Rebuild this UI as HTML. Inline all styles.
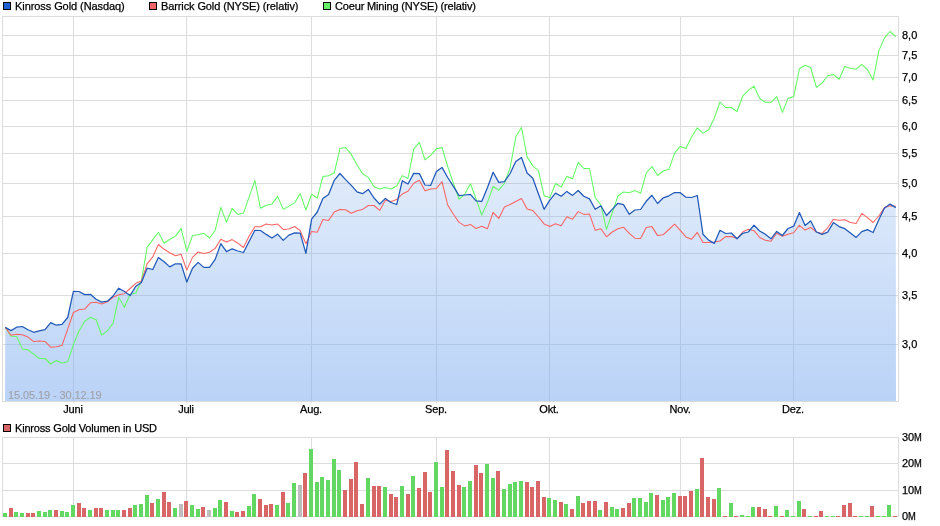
<!DOCTYPE html>
<html><head><meta charset="utf-8"><title>Chart</title>
<style>
html,body{margin:0;padding:0;background:#fff;}
body{width:940px;height:526px;position:relative;overflow:hidden;font-family:"Liberation Sans",sans-serif;}
.t{position:absolute;will-change:transform;-webkit-text-stroke:0.25px currentColor;font-size:11px;line-height:13px;color:#000;white-space:nowrap;}
</style></head><body>
<svg width="940" height="526" viewBox="0 0 940 526" style="position:absolute;left:0;top:0">
<defs>
<linearGradient id="bf" gradientUnits="userSpaceOnUse" x1="0" y1="16" x2="0" y2="401"><stop offset="0" stop-color="#7eadef" stop-opacity="0.03"/><stop offset="1" stop-color="#7eadef" stop-opacity="0.54"/></linearGradient></defs>
<g stroke="#dcdcdc" stroke-width="1" shape-rendering="crispEdges" fill="none">
<rect x="2.5" y="16.5" width="896" height="385"/>
<line x1="3" x2="898" y1="35.5" y2="35.5"/>
<line x1="3" x2="898" y1="55.5" y2="55.5"/>
<line x1="3" x2="898" y1="77.5" y2="77.5"/>
<line x1="3" x2="898" y1="100.5" y2="100.5"/>
<line x1="3" x2="898" y1="126.5" y2="126.5"/>
<line x1="3" x2="898" y1="153.5" y2="153.5"/>
<line x1="3" x2="898" y1="183.5" y2="183.5"/>
<line x1="3" x2="898" y1="216.5" y2="216.5"/>
<line x1="3" x2="898" y1="253.5" y2="253.5"/>
<line x1="3" x2="898" y1="295.5" y2="295.5"/>
<line x1="3" x2="898" y1="344.5" y2="344.5"/>
<line x1="73.5" x2="73.5" y1="17" y2="403"/>
<line x1="73.5" x2="73.5" y1="438" y2="517"/>
<line x1="186.5" x2="186.5" y1="17" y2="403"/>
<line x1="186.5" x2="186.5" y1="438" y2="517"/>
<line x1="311.5" x2="311.5" y1="17" y2="403"/>
<line x1="311.5" x2="311.5" y1="438" y2="517"/>
<line x1="436.5" x2="436.5" y1="17" y2="403"/>
<line x1="436.5" x2="436.5" y1="438" y2="517"/>
<line x1="549.5" x2="549.5" y1="17" y2="403"/>
<line x1="549.5" x2="549.5" y1="438" y2="517"/>
<line x1="680.5" x2="680.5" y1="17" y2="403"/>
<line x1="680.5" x2="680.5" y1="438" y2="517"/>
<line x1="793.5" x2="793.5" y1="17" y2="403"/>
<line x1="793.5" x2="793.5" y1="438" y2="517"/>
<rect x="2.5" y="437.5" width="896" height="79"/>
<line x1="3" x2="898" y1="463.5" y2="463.5"/>
<line x1="3" x2="898" y1="490.5" y2="490.5"/>
</g>
<path d="M5.3,327.4 L11.0,330.6 L16.6,327.2 L22.3,326.5 L28.0,329.7 L33.7,332.3 L39.3,330.8 L45.0,329.7 L50.7,322.6 L56.3,325.2 L62.0,324.3 L67.7,317.5 L73.4,291.3 L79.0,291.5 L84.7,294.6 L90.4,294.3 L96.1,299.2 L101.7,302.1 L107.4,301.2 L113.1,296.0 L118.7,288.2 L124.4,291.5 L130.1,295.6 L135.8,286.2 L141.4,282.4 L147.1,268.2 L152.8,269.5 L158.4,257.5 L164.1,261.7 L169.8,266.9 L175.5,263.8 L181.1,263.9 L186.8,282.0 L192.5,268.2 L198.1,262.4 L203.8,267.4 L209.5,267.4 L215.2,259.4 L220.8,243.6 L226.5,251.6 L232.2,248.8 L237.9,251.0 L243.5,252.5 L249.2,241.3 L254.9,230.3 L260.5,230.5 L266.2,234.4 L271.9,238.0 L277.6,234.2 L283.2,240.4 L288.9,235.1 L294.6,232.9 L300.2,233.1 L305.9,253.4 L311.6,219.1 L317.3,212.0 L322.9,198.4 L328.6,194.4 L334.3,180.3 L339.9,173.5 L345.6,179.6 L351.3,185.4 L357.0,191.8 L362.6,193.7 L368.3,189.4 L374.0,198.0 L379.7,204.2 L385.3,198.4 L391.0,202.5 L396.7,204.5 L402.3,180.7 L408.0,184.0 L413.7,173.4 L419.4,173.6 L425.0,185.0 L430.7,185.3 L436.4,171.4 L442.0,167.4 L447.7,177.5 L453.4,186.3 L459.1,195.6 L464.7,195.0 L470.4,194.3 L476.1,200.8 L481.7,201.4 L487.4,187.8 L493.1,172.3 L498.8,182.4 L504.4,181.6 L510.1,173.5 L515.8,161.6 L521.5,157.5 L527.1,173.0 L532.8,178.2 L538.5,194.0 L544.1,209.3 L549.8,200.2 L555.5,193.1 L561.2,196.3 L566.8,191.4 L572.5,195.4 L578.2,190.5 L583.8,196.3 L589.5,198.9 L595.2,209.3 L600.9,205.8 L606.5,215.5 L612.2,209.3 L617.9,203.3 L623.5,204.6 L629.2,214.3 L634.9,210.0 L640.6,209.5 L646.2,201.3 L651.9,195.3 L657.6,203.5 L663.3,197.8 L668.9,195.8 L674.6,192.5 L680.3,192.7 L685.9,197.2 L691.6,197.5 L697.3,195.5 L703.0,234.3 L708.6,240.1 L714.3,243.4 L720.0,230.3 L725.6,233.5 L731.3,233.0 L737.0,238.8 L742.7,233.3 L748.3,232.0 L754.0,225.2 L759.7,231.0 L765.3,234.2 L771.0,238.8 L776.7,231.4 L782.4,235.5 L788.0,228.5 L793.7,226.2 L799.4,212.6 L805.1,225.6 L810.7,221.0 L816.4,232.0 L822.1,234.4 L827.7,232.1 L833.4,222.6 L839.1,226.6 L844.8,228.7 L850.4,233.1 L856.1,237.4 L861.8,231.6 L867.4,229.6 L873.1,232.5 L878.8,219.7 L884.5,208.0 L890.1,204.1 L895.8,207.6 L896,401 L5.0,401 Z" fill="url(#bf)" stroke="none"/>
<path d="M5.3,327.4 L11.0,336.2 L16.6,336.5 L22.3,348.9 L28.0,349.8 L33.7,354.1 L39.3,358.5 L45.0,358.5 L50.7,364.0 L56.3,360.5 L62.0,363.1 L67.7,361.8 L73.4,344.6 L79.0,331.0 L84.7,321.3 L90.4,317.2 L96.1,319.7 L101.7,335.2 L107.4,330.8 L113.1,323.3 L118.7,297.3 L124.4,307.2 L130.1,294.3 L135.8,293.0 L141.4,280.7 L147.1,247.4 L152.8,239.6 L158.4,232.3 L164.1,243.3 L169.8,239.3 L175.5,236.1 L181.1,228.6 L186.8,251.4 L192.5,235.5 L198.1,234.8 L203.8,233.3 L209.5,238.0 L215.2,230.5 L220.8,207.4 L226.5,222.3 L232.2,208.3 L237.9,214.4 L243.5,213.1 L249.2,196.7 L254.9,180.5 L260.5,208.3 L266.2,205.3 L271.9,204.1 L277.6,196.4 L283.2,209.4 L288.9,206.1 L294.6,202.9 L300.2,193.6 L305.9,210.0 L311.6,194.2 L317.3,198.1 L322.9,176.4 L328.6,175.7 L334.3,172.8 L339.9,148.6 L345.6,147.5 L351.3,154.4 L357.0,164.7 L362.6,173.8 L368.3,177.4 L374.0,186.7 L379.7,188.9 L385.3,187.6 L391.0,189.0 L396.7,186.0 L402.3,175.6 L408.0,178.5 L413.7,149.1 L419.4,142.3 L425.0,159.8 L430.7,155.3 L436.4,148.8 L442.0,147.4 L447.7,166.5 L453.4,183.3 L459.1,199.2 L464.7,194.3 L470.4,183.7 L476.1,198.8 L481.7,215.2 L487.4,202.6 L493.1,186.5 L498.8,190.2 L504.4,183.3 L510.1,168.0 L515.8,136.8 L521.5,127.5 L527.1,156.9 L532.8,165.9 L538.5,170.8 L544.1,195.7 L549.8,197.6 L555.5,183.5 L561.2,187.1 L566.8,176.3 L572.5,178.8 L578.2,162.3 L583.8,168.5 L589.5,168.5 L595.2,197.6 L600.9,205.0 L606.5,229.3 L612.2,213.0 L617.9,196.0 L623.5,191.9 L629.2,192.7 L634.9,190.6 L640.6,193.3 L646.2,173.2 L651.9,166.5 L657.6,175.5 L663.3,171.0 L668.9,169.3 L674.6,153.1 L680.3,146.4 L685.9,148.4 L691.6,137.0 L697.3,127.9 L703.0,133.1 L708.6,129.9 L714.3,118.2 L720.0,102.0 L725.6,107.5 L731.3,107.5 L737.0,111.5 L742.7,96.2 L748.3,90.4 L754.0,86.3 L759.7,98.5 L765.3,102.3 L771.0,102.3 L776.7,96.6 L782.4,112.4 L788.0,98.4 L793.7,96.6 L799.4,68.8 L805.1,65.2 L810.7,67.5 L816.4,87.4 L822.1,83.1 L827.7,75.8 L833.4,74.4 L839.1,79.3 L844.8,66.4 L850.4,68.3 L856.1,69.2 L861.8,64.4 L867.4,69.6 L873.1,80.0 L878.8,50.9 L884.5,37.9 L890.1,31.5 L895.8,36.9" fill="none" stroke="#62fc62" stroke-width="1.05" stroke-linejoin="round"/>
<path d="M5.3,327.4 L11.0,335.2 L16.6,334.3 L22.3,334.7 L28.0,337.1 L33.7,341.6 L39.3,341.1 L45.0,341.4 L50.7,347.2 L56.3,346.8 L62.0,345.5 L67.7,329.1 L73.4,312.5 L79.0,309.7 L84.7,309.1 L90.4,302.8 L96.1,302.2 L101.7,304.0 L107.4,301.8 L113.1,297.3 L118.7,294.7 L124.4,293.7 L130.1,288.5 L135.8,283.3 L141.4,281.1 L147.1,263.9 L152.8,256.8 L158.4,244.5 L164.1,249.3 L169.8,252.7 L175.5,255.8 L181.1,254.3 L186.8,270.1 L192.5,257.4 L198.1,252.0 L203.8,253.6 L209.5,252.3 L215.2,248.4 L220.8,239.3 L226.5,241.9 L232.2,239.6 L237.9,243.2 L243.5,247.5 L249.2,236.1 L254.9,226.7 L260.5,226.7 L266.2,224.1 L271.9,225.1 L277.6,224.1 L283.2,229.4 L288.9,229.1 L294.6,226.5 L300.2,230.7 L305.9,243.7 L311.6,231.4 L317.3,232.3 L322.9,219.5 L328.6,220.4 L334.3,212.0 L339.9,209.4 L345.6,209.8 L351.3,213.3 L357.0,210.7 L362.6,209.4 L368.3,205.5 L374.0,205.5 L379.7,210.4 L385.3,200.3 L391.0,201.5 L396.7,199.6 L402.3,194.0 L408.0,191.3 L413.7,183.3 L419.4,180.3 L425.0,190.8 L430.7,189.1 L436.4,188.5 L442.0,181.7 L447.7,205.0 L453.4,214.3 L459.1,222.4 L464.7,225.9 L470.4,224.4 L476.1,228.5 L481.7,226.2 L487.4,228.8 L493.1,212.3 L498.8,218.4 L504.4,207.0 L510.1,204.5 L515.8,201.5 L521.5,198.5 L527.1,208.9 L532.8,210.6 L538.5,217.0 L544.1,223.9 L549.8,226.5 L555.5,223.8 L561.2,225.7 L566.8,216.8 L572.5,219.2 L578.2,211.6 L583.8,214.4 L589.5,214.1 L595.2,230.3 L600.9,228.7 L606.5,236.8 L612.2,232.0 L617.9,228.8 L623.5,227.2 L629.2,233.3 L634.9,238.2 L640.6,238.5 L646.2,227.5 L651.9,226.6 L657.6,235.6 L663.3,234.7 L668.9,229.5 L674.6,224.2 L680.3,230.4 L685.9,236.9 L691.6,239.2 L697.3,232.4 L703.0,242.5 L708.6,242.5 L714.3,242.1 L720.0,241.0 L725.6,236.6 L731.3,236.6 L737.0,238.5 L742.7,232.0 L748.3,229.2 L754.0,230.7 L759.7,237.5 L765.3,240.2 L771.0,241.3 L776.7,233.3 L782.4,236.3 L788.0,234.2 L793.7,232.7 L799.4,225.3 L805.1,230.1 L810.7,227.5 L816.4,232.0 L822.1,233.4 L827.7,227.8 L833.4,219.4 L839.1,220.3 L844.8,219.7 L850.4,222.5 L856.1,223.4 L861.8,213.4 L867.4,217.6 L873.1,222.5 L878.8,216.0 L884.5,207.6 L890.1,205.7 L895.8,206.3" fill="none" stroke="#fc6262" stroke-width="1.05" stroke-linejoin="round"/>
<path d="M5.3,327.4 L11.0,330.6 L16.6,327.2 L22.3,326.5 L28.0,329.7 L33.7,332.3 L39.3,330.8 L45.0,329.7 L50.7,322.6 L56.3,325.2 L62.0,324.3 L67.7,317.5 L73.4,291.3 L79.0,291.5 L84.7,294.6 L90.4,294.3 L96.1,299.2 L101.7,302.1 L107.4,301.2 L113.1,296.0 L118.7,288.2 L124.4,291.5 L130.1,295.6 L135.8,286.2 L141.4,282.4 L147.1,268.2 L152.8,269.5 L158.4,257.5 L164.1,261.7 L169.8,266.9 L175.5,263.8 L181.1,263.9 L186.8,282.0 L192.5,268.2 L198.1,262.4 L203.8,267.4 L209.5,267.4 L215.2,259.4 L220.8,243.6 L226.5,251.6 L232.2,248.8 L237.9,251.0 L243.5,252.5 L249.2,241.3 L254.9,230.3 L260.5,230.5 L266.2,234.4 L271.9,238.0 L277.6,234.2 L283.2,240.4 L288.9,235.1 L294.6,232.9 L300.2,233.1 L305.9,253.4 L311.6,219.1 L317.3,212.0 L322.9,198.4 L328.6,194.4 L334.3,180.3 L339.9,173.5 L345.6,179.6 L351.3,185.4 L357.0,191.8 L362.6,193.7 L368.3,189.4 L374.0,198.0 L379.7,204.2 L385.3,198.4 L391.0,202.5 L396.7,204.5 L402.3,180.7 L408.0,184.0 L413.7,173.4 L419.4,173.6 L425.0,185.0 L430.7,185.3 L436.4,171.4 L442.0,167.4 L447.7,177.5 L453.4,186.3 L459.1,195.6 L464.7,195.0 L470.4,194.3 L476.1,200.8 L481.7,201.4 L487.4,187.8 L493.1,172.3 L498.8,182.4 L504.4,181.6 L510.1,173.5 L515.8,161.6 L521.5,157.5 L527.1,173.0 L532.8,178.2 L538.5,194.0 L544.1,209.3 L549.8,200.2 L555.5,193.1 L561.2,196.3 L566.8,191.4 L572.5,195.4 L578.2,190.5 L583.8,196.3 L589.5,198.9 L595.2,209.3 L600.9,205.8 L606.5,215.5 L612.2,209.3 L617.9,203.3 L623.5,204.6 L629.2,214.3 L634.9,210.0 L640.6,209.5 L646.2,201.3 L651.9,195.3 L657.6,203.5 L663.3,197.8 L668.9,195.8 L674.6,192.5 L680.3,192.7 L685.9,197.2 L691.6,197.5 L697.3,195.5 L703.0,234.3 L708.6,240.1 L714.3,243.4 L720.0,230.3 L725.6,233.5 L731.3,233.0 L737.0,238.8 L742.7,233.3 L748.3,232.0 L754.0,225.2 L759.7,231.0 L765.3,234.2 L771.0,238.8 L776.7,231.4 L782.4,235.5 L788.0,228.5 L793.7,226.2 L799.4,212.6 L805.1,225.6 L810.7,221.0 L816.4,232.0 L822.1,234.4 L827.7,232.1 L833.4,222.6 L839.1,226.6 L844.8,228.7 L850.4,233.1 L856.1,237.4 L861.8,231.6 L867.4,229.6 L873.1,232.5 L878.8,219.7 L884.5,208.0 L890.1,204.1 L895.8,207.6" fill="none" stroke="#2058b8" stroke-width="1.25" stroke-linejoin="round"/>
<g shape-rendering="crispEdges">
<rect x="3" y="513" width="4" height="4" fill="#62d862"/>
<rect x="9" y="508" width="4" height="9" fill="#d96666"/>
<rect x="14" y="512" width="4" height="5" fill="#62d862"/>
<rect x="20" y="513" width="4" height="4" fill="#62d862"/>
<rect x="26" y="513" width="4" height="4" fill="#d96666"/>
<rect x="31" y="513" width="4" height="4" fill="#d96666"/>
<rect x="37" y="511" width="4" height="6" fill="#62d862"/>
<rect x="43" y="512" width="4" height="5" fill="#62d862"/>
<rect x="48" y="510" width="4" height="7" fill="#62d862"/>
<rect x="54" y="510" width="4" height="7" fill="#d96666"/>
<rect x="60" y="511" width="4" height="6" fill="#62d862"/>
<rect x="65" y="512" width="4" height="5" fill="#62d862"/>
<rect x="71" y="505" width="4" height="12" fill="#62d862"/>
<rect x="77" y="503" width="4" height="14" fill="#d96666"/>
<rect x="82" y="508" width="4" height="9" fill="#d96666"/>
<rect x="88" y="510" width="4" height="7" fill="#62d862"/>
<rect x="94" y="508" width="4" height="9" fill="#d96666"/>
<rect x="99" y="508" width="4" height="9" fill="#d96666"/>
<rect x="105" y="510" width="4" height="7" fill="#62d862"/>
<rect x="111" y="510" width="4" height="7" fill="#62d862"/>
<rect x="116" y="510" width="4" height="7" fill="#62d862"/>
<rect x="122" y="510" width="4" height="7" fill="#d96666"/>
<rect x="128" y="508" width="4" height="9" fill="#d96666"/>
<rect x="133" y="505" width="4" height="12" fill="#62d862"/>
<rect x="139" y="504" width="4" height="13" fill="#62d862"/>
<rect x="145" y="495" width="4" height="22" fill="#62d862"/>
<rect x="150" y="503" width="4" height="14" fill="#d96666"/>
<rect x="156" y="499" width="4" height="18" fill="#62d862"/>
<rect x="162" y="492" width="4" height="25" fill="#d96666"/>
<rect x="167" y="502" width="4" height="15" fill="#d96666"/>
<rect x="173" y="508" width="4" height="9" fill="#62d862"/>
<rect x="179" y="504" width="4" height="13" fill="#bdbdbd"/>
<rect x="184" y="501" width="4" height="16" fill="#d96666"/>
<rect x="190" y="505" width="4" height="12" fill="#62d862"/>
<rect x="196" y="509" width="4" height="8" fill="#62d862"/>
<rect x="201" y="507" width="4" height="10" fill="#d96666"/>
<rect x="207" y="510" width="4" height="7" fill="#bdbdbd"/>
<rect x="213" y="508" width="4" height="9" fill="#62d862"/>
<rect x="218" y="500" width="4" height="17" fill="#62d862"/>
<rect x="224" y="502" width="4" height="15" fill="#d96666"/>
<rect x="230" y="511" width="4" height="6" fill="#62d862"/>
<rect x="235" y="512" width="4" height="5" fill="#d96666"/>
<rect x="241" y="511" width="4" height="6" fill="#d96666"/>
<rect x="247" y="506" width="4" height="11" fill="#62d862"/>
<rect x="252" y="494" width="4" height="23" fill="#62d862"/>
<rect x="258" y="499" width="4" height="18" fill="#d96666"/>
<rect x="264" y="505" width="4" height="12" fill="#d96666"/>
<rect x="269" y="504" width="4" height="13" fill="#d96666"/>
<rect x="275" y="505" width="4" height="12" fill="#62d862"/>
<rect x="281" y="492" width="4" height="25" fill="#d96666"/>
<rect x="286" y="503" width="4" height="14" fill="#62d862"/>
<rect x="292" y="483" width="4" height="34" fill="#62d862"/>
<rect x="298" y="485" width="4" height="32" fill="#bdbdbd"/>
<rect x="303" y="473" width="4" height="44" fill="#d96666"/>
<rect x="309" y="449" width="4" height="68" fill="#62d862"/>
<rect x="315" y="482" width="4" height="35" fill="#62d862"/>
<rect x="320" y="477" width="4" height="40" fill="#62d862"/>
<rect x="326" y="480" width="4" height="37" fill="#62d862"/>
<rect x="332" y="459" width="4" height="58" fill="#62d862"/>
<rect x="337" y="470" width="4" height="47" fill="#62d862"/>
<rect x="343" y="490" width="4" height="27" fill="#d96666"/>
<rect x="349" y="479" width="4" height="38" fill="#d96666"/>
<rect x="354" y="462" width="4" height="55" fill="#d96666"/>
<rect x="360" y="504" width="4" height="13" fill="#d96666"/>
<rect x="366" y="478" width="4" height="39" fill="#62d862"/>
<rect x="372" y="486" width="4" height="31" fill="#d96666"/>
<rect x="377" y="486" width="4" height="31" fill="#d96666"/>
<rect x="383" y="487" width="4" height="30" fill="#62d862"/>
<rect x="389" y="494" width="4" height="23" fill="#d96666"/>
<rect x="394" y="497" width="4" height="20" fill="#d96666"/>
<rect x="400" y="486" width="4" height="31" fill="#62d862"/>
<rect x="406" y="494" width="4" height="23" fill="#d96666"/>
<rect x="411" y="476" width="4" height="41" fill="#62d862"/>
<rect x="417" y="488" width="4" height="29" fill="#d96666"/>
<rect x="423" y="472" width="4" height="45" fill="#d96666"/>
<rect x="428" y="492" width="4" height="25" fill="#d96666"/>
<rect x="434" y="462" width="4" height="55" fill="#62d862"/>
<rect x="440" y="487" width="4" height="30" fill="#62d862"/>
<rect x="445" y="450" width="4" height="67" fill="#d96666"/>
<rect x="451" y="471" width="4" height="46" fill="#d96666"/>
<rect x="457" y="485" width="4" height="32" fill="#d96666"/>
<rect x="462" y="487" width="4" height="30" fill="#62d862"/>
<rect x="468" y="481" width="4" height="36" fill="#62d862"/>
<rect x="474" y="465" width="4" height="52" fill="#d96666"/>
<rect x="479" y="473" width="4" height="44" fill="#d96666"/>
<rect x="485" y="464" width="4" height="53" fill="#62d862"/>
<rect x="491" y="478" width="4" height="39" fill="#62d862"/>
<rect x="496" y="471" width="4" height="46" fill="#d96666"/>
<rect x="502" y="489" width="4" height="28" fill="#62d862"/>
<rect x="508" y="484" width="4" height="33" fill="#62d862"/>
<rect x="513" y="482" width="4" height="35" fill="#62d862"/>
<rect x="519" y="481" width="4" height="36" fill="#62d862"/>
<rect x="525" y="482" width="4" height="35" fill="#d96666"/>
<rect x="530" y="487" width="4" height="30" fill="#d96666"/>
<rect x="536" y="481" width="4" height="36" fill="#d96666"/>
<rect x="542" y="497" width="4" height="20" fill="#d96666"/>
<rect x="547" y="498" width="4" height="19" fill="#62d862"/>
<rect x="553" y="500" width="4" height="17" fill="#62d862"/>
<rect x="559" y="502" width="4" height="15" fill="#d96666"/>
<rect x="564" y="504" width="4" height="13" fill="#62d862"/>
<rect x="570" y="509" width="4" height="8" fill="#d96666"/>
<rect x="576" y="496" width="4" height="21" fill="#62d862"/>
<rect x="581" y="503" width="4" height="14" fill="#d96666"/>
<rect x="587" y="501" width="4" height="16" fill="#d96666"/>
<rect x="593" y="501" width="4" height="16" fill="#d96666"/>
<rect x="598" y="510" width="4" height="7" fill="#62d862"/>
<rect x="604" y="502" width="4" height="15" fill="#d96666"/>
<rect x="610" y="507" width="4" height="10" fill="#62d862"/>
<rect x="615" y="509" width="4" height="8" fill="#62d862"/>
<rect x="621" y="508" width="4" height="9" fill="#d96666"/>
<rect x="627" y="503" width="4" height="14" fill="#d96666"/>
<rect x="632" y="498" width="4" height="19" fill="#62d862"/>
<rect x="638" y="498" width="4" height="19" fill="#62d862"/>
<rect x="644" y="502" width="4" height="15" fill="#62d862"/>
<rect x="649" y="493" width="4" height="24" fill="#62d862"/>
<rect x="655" y="495" width="4" height="22" fill="#d96666"/>
<rect x="661" y="500" width="4" height="17" fill="#62d862"/>
<rect x="666" y="497" width="4" height="20" fill="#62d862"/>
<rect x="672" y="493" width="4" height="24" fill="#62d862"/>
<rect x="678" y="496" width="4" height="21" fill="#d96666"/>
<rect x="683" y="496" width="4" height="21" fill="#d96666"/>
<rect x="689" y="491" width="4" height="26" fill="#d96666"/>
<rect x="695" y="489" width="4" height="28" fill="#62d862"/>
<rect x="700" y="458" width="4" height="59" fill="#d96666"/>
<rect x="706" y="497" width="4" height="20" fill="#d96666"/>
<rect x="712" y="499" width="4" height="18" fill="#d96666"/>
<rect x="717" y="488" width="4" height="29" fill="#62d862"/>
<rect x="723" y="516" width="4" height="1" fill="#d96666"/>
<rect x="729" y="503" width="4" height="14" fill="#62d862"/>
<rect x="734" y="516" width="4" height="1" fill="#d96666"/>
<rect x="740" y="515" width="4" height="2" fill="#62d862"/>
<rect x="746" y="516" width="4" height="1" fill="#62d862"/>
<rect x="751" y="507" width="4" height="10" fill="#62d862"/>
<rect x="757" y="507" width="4" height="10" fill="#d96666"/>
<rect x="763" y="509" width="4" height="8" fill="#d96666"/>
<rect x="768" y="516" width="4" height="1" fill="#d96666"/>
<rect x="774" y="506" width="4" height="11" fill="#62d862"/>
<rect x="780" y="516" width="4" height="1" fill="#d96666"/>
<rect x="785" y="510" width="4" height="7" fill="#62d862"/>
<rect x="791" y="516" width="4" height="1" fill="#62d862"/>
<rect x="797" y="501" width="4" height="16" fill="#62d862"/>
<rect x="802" y="509" width="4" height="8" fill="#d96666"/>
<rect x="808" y="516" width="4" height="1" fill="#62d862"/>
<rect x="814" y="516" width="4" height="1" fill="#d96666"/>
<rect x="819" y="511" width="4" height="6" fill="#d96666"/>
<rect x="825" y="516" width="4" height="1" fill="#62d862"/>
<rect x="831" y="516" width="4" height="1" fill="#62d862"/>
<rect x="836" y="516" width="4" height="1" fill="#d96666"/>
<rect x="842" y="505" width="4" height="12" fill="#d96666"/>
<rect x="848" y="503" width="4" height="14" fill="#d96666"/>
<rect x="853" y="516" width="4" height="1" fill="#d96666"/>
<rect x="859" y="516" width="4" height="1" fill="#62d862"/>
<rect x="865" y="516" width="4" height="1" fill="#62d862"/>
<rect x="870" y="506" width="4" height="11" fill="#d96666"/>
<rect x="876" y="516" width="4" height="1" fill="#62d862"/>
<rect x="882" y="516" width="4" height="1" fill="#62d862"/>
<rect x="887" y="505" width="4" height="12" fill="#62d862"/>
<rect x="893" y="516" width="4" height="1" fill="#d96666"/>
</g>
<rect x="3.5" y="2.5" width="7" height="7" fill="#2060d0" stroke="#000" stroke-width="1" shape-rendering="crispEdges"/>
<rect x="149.5" y="2.5" width="7" height="7" fill="#f06666" stroke="#000" stroke-width="1" shape-rendering="crispEdges"/>
<rect x="323.5" y="2.5" width="7" height="7" fill="#66f066" stroke="#000" stroke-width="1" shape-rendering="crispEdges"/>
<rect x="3.5" y="424.5" width="7" height="7" fill="#d96666" stroke="#000" stroke-width="1" shape-rendering="crispEdges"/>
</svg>
<div class="t" style="left:15px;top:0px;letter-spacing:-0.075px">Kinross Gold (Nasdaq)</div>
<div class="t" style="left:161px;top:0px;letter-spacing:-0.11px">Barrick Gold (NYSE) (relativ)</div>
<div class="t" style="left:335px;top:0px;letter-spacing:-0.164px">Coeur Mining (NYSE) (relativ)</div>
<div class="t" style="left:15px;top:422px;letter-spacing:-0.18px">Kinross Gold Volumen in USD</div>
<div class="t" style="left:8px;top:389px;color:#a0a0a9;letter-spacing:-0.1px;-webkit-text-stroke:0.1px currentColor">15.05.19 - 30.12.19</div>
<div class="t" style="left:902px;top:28.5px;">8,0</div>
<div class="t" style="left:902px;top:48.5px;">7,5</div>
<div class="t" style="left:902px;top:70.5px;">7,0</div>
<div class="t" style="left:902px;top:93.5px;">6,5</div>
<div class="t" style="left:902px;top:119.5px;">6,0</div>
<div class="t" style="left:902px;top:146.5px;">5,5</div>
<div class="t" style="left:902px;top:176.5px;">5,0</div>
<div class="t" style="left:902px;top:209.5px;">4,5</div>
<div class="t" style="left:902px;top:246.5px;">4,0</div>
<div class="t" style="left:902px;top:288.5px;">3,5</div>
<div class="t" style="left:902px;top:337.5px;">3,0</div>
<div class="t" style="left:902px;top:430.5px;">30<span style="display:inline-block;transform:scaleX(0.85);transform-origin:0 50%">M</span></div>
<div class="t" style="left:902px;top:456.5px;">20<span style="display:inline-block;transform:scaleX(0.85);transform-origin:0 50%">M</span></div>
<div class="t" style="left:902px;top:483.5px;">10<span style="display:inline-block;transform:scaleX(0.85);transform-origin:0 50%">M</span></div>
<div class="t" style="left:902px;top:509.5px;">0<span style="display:inline-block;transform:scaleX(0.85);transform-origin:0 50%">M</span></div>
<div class="t c" style="left:43.4px;top:403px;width:60px;text-align:center;letter-spacing:-0.2px">Juni</div>
<div class="t c" style="left:156.4px;top:403px;width:60px;text-align:center;letter-spacing:-0.2px">Juli</div>
<div class="t c" style="left:281.4px;top:403px;width:60px;text-align:center;letter-spacing:-0.2px">Aug.</div>
<div class="t c" style="left:406.4px;top:403px;width:60px;text-align:center;letter-spacing:-0.2px">Sep.</div>
<div class="t c" style="left:519.4px;top:403px;width:60px;text-align:center;letter-spacing:-0.2px">Okt.</div>
<div class="t c" style="left:650.4px;top:403px;width:60px;text-align:center;letter-spacing:-0.2px">Nov.</div>
<div class="t c" style="left:763.4px;top:403px;width:60px;text-align:center;letter-spacing:-0.2px">Dez.</div>
</body></html>
